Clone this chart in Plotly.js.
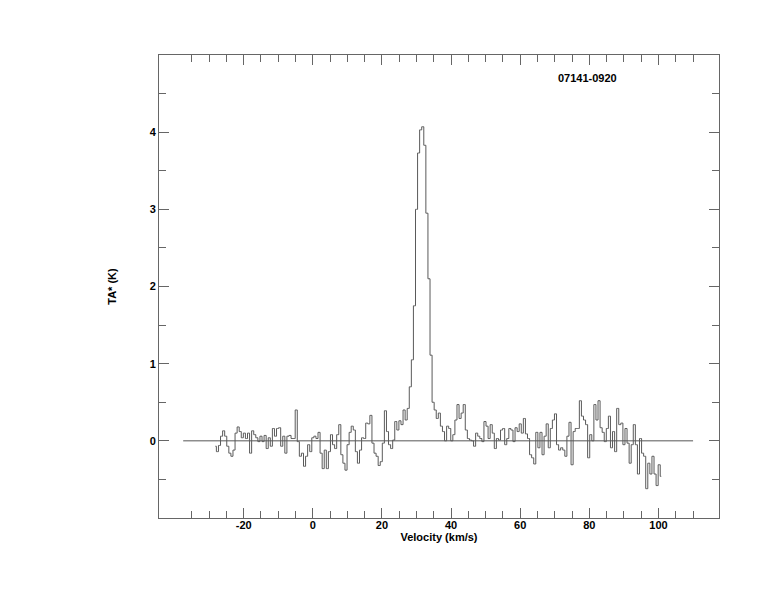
<!DOCTYPE html>
<html>
<head>
<meta charset="utf-8">
<script src="https://cdn.plot.ly/plotly-3.0.1.min.js"></script>
<style>html,body{margin:0;padding:0;background:#fff;}#chart{width:774px;height:612px;}</style>
</head>
<body>
<div id="chart"></div>
<script>
// ---- data ----
const sourceName = "07141-0920";
const velocityStart = -28.2;   // km/s, centre of first channel
const channelWidth = 0.6;      // km/s
const segmentNoiseLow = [
  -0.07, -0.14, -0.06, 0.06, 0.13, 0.06, -0.07, -0.16, -0.20, -0.12,
  0.10, 0.18, 0.12, 0.04, 0.10, 0.03, 0.10, -0.16, 0.13, 0.08,
  0.04, -0.01, 0.06, -0.01, 0.07, -0.10, 0.04, -0.07, 0.16, 0.06,
  0.16, 0.17, -0.07, 0.06, -0.16, 0.06, 0.07, 0.03, 0.03, 0.40,
  -0.01, -0.20, -0.16, -0.33, -0.20, -0.05, -0.14, 0.04, 0.06, 0.03,
  0.11, -0.16, -0.36, -0.12, -0.36, -0.14, 0.08, -0.05, -0.10, 0.08,
  0.21, -0.18, -0.29, -0.38, -0.05, 0.11, 0.19, 0.14, -0.14, -0.29,
  -0.12, 0.04
];
const segmentPreLine = [
  0.03, 0.23, 0.22, 0.33, -0.03, -0.16, -0.20, -0.32, -0.27, -0.03,
  0.39, 0.12, -0.05, -0.10, 0.01, 0.25, 0.14, 0.26, 0.21, 0.40,
  0.27, 0.42
];
const segmentLine = [
  0.70, 1.05, 1.75, 3.00, 3.73, 4.03, 4.07, 3.83, 2.95, 2.10,
  1.11, 0.50, 0.40
];
const segmentPostLine = [
  0.29, 0.36, 0.19, 0.12, 0.00, 0.19, 0.16, 0.00, 0.08, 0.27,
  0.47, 0.29, 0.36, 0.47, 0.14, 0.03, 0.01, 0.00, -0.07, 0.10,
  0.06, 0.03, -0.01, 0.25, 0.19, 0.03, 0.21, 0.10, -0.10, 0.03,
  0.01, 0.14, 0.16, -0.05, 0.03, 0.16, 0.14, -0.01, 0.17
];
const segmentNoiseHigh = [
  0.12, 0.22, 0.10, 0.29, 0.09, 0.03, -0.18, -0.22, -0.30, 0.11,
  -0.09, 0.11, -0.18, 0.06, 0.22, -0.09, 0.16, 0.27, 0.35, -0.05,
  -0.12, -0.09, -0.12, -0.20, 0.06, 0.24, -0.31, 0.12, 0.16, 0.16,
  0.52, 0.32, 0.27, 0.21, -0.22, 0.08, 0.00, 0.47, 0.27, 0.52,
  0.17, 0.11, -0.01, 0.16, 0.32, -0.09, 0.12, -0.14, 0.42, 0.21,
  0.23, -0.05, 0.16, -0.03, -0.29, -0.05, 0.21, -0.05, -0.43, 0.03,
  -0.16, -0.20, -0.62, -0.29, -0.43, -0.20, -0.43, -0.58, -0.31, -0.46
];
const baselineVelocity = [-37.5, 110];
const baselineLevel = [0, 0];
const xMajorTicks = [-20, 0, 20, 40, 60, 80, 100];
const xMinorFrom = -35, xMinorTo = 110, xMinorStep = 5;
const yMajorTicks = [0, 1, 2, 3, 4];
const yMinorTicks = [-0.5, 0.5, 1.5, 2.5, 3.5, 4.5];

// ---- build ----
const temps = [].concat(segmentNoiseLow, segmentPreLine, segmentLine, segmentPostLine, segmentNoiseHigh);
const vel = temps.map((_, i) => +(velocityStart + i * channelWidth).toFixed(3));
const xMinor = [];
for (let v = xMinorFrom; v <= xMinorTo; v += xMinorStep) if (!xMajorTicks.includes(v)) xMinor.push(v);

const axisColor = '#666666';
const fontBold = {family: 'Liberation Sans, Arial, Helvetica, sans-serif', size: 11, color: '#000', weight: 'bold'};

const traces = [
  {x: baselineVelocity, y: baselineLevel, type: 'scatter', mode: 'lines',
   line: {color: '#555555', width: 1}, hoverinfo: 'skip', showlegend: false},
  {x: vel, y: temps, type: 'scatter', mode: 'lines',
   line: {color: '#5a5a5a', width: 1, shape: 'hvh'}, showlegend: false}
];

const commonAxis = {
  showline: true, linecolor: axisColor, linewidth: 1, mirror: 'allticks',
  ticks: 'inside', tickcolor: axisColor, tickwidth: 1, ticklen: 10,
  showgrid: false, zeroline: false, tickfont: fontBold
};

const layout = {
  width: 774, height: 612,
  margin: {l: 159, r: 55, t: 55, b: 94},
  paper_bgcolor: '#fff', plot_bgcolor: '#fff',
  xaxis: Object.assign({}, commonAxis, {
    range: [-44.5, 117.5], tickmode: 'array', tickvals: xMajorTicks,
    ticktext: xMajorTicks.map(String), ticklabelstandoff: -3,
    minor: {tickmode: 'array', tickvals: xMinor, ticks: 'inside', ticklen: 7, tickcolor: axisColor, tickwidth: 1, showgrid: false},
    title: {text: 'Velocity (km/s)', font: fontBold, standoff: 0}
  }),
  yaxis: Object.assign({}, commonAxis, {
    range: [-1, 5], tickmode: 'array', tickvals: yMajorTicks,
    ticktext: yMajorTicks.map(String),
    minor: {tickmode: 'array', tickvals: yMinorTicks, ticks: 'inside', ticklen: 7, tickcolor: axisColor, tickwidth: 1, showgrid: false},
    title: {text: 'TA* (K)', font: fontBold, standoff: 30}
  }),
  annotations: [{
    text: sourceName, xref: 'paper', yref: 'paper', x: 0.766, y: 0.95,
    xanchor: 'center', yanchor: 'middle', showarrow: false, font: fontBold
  }]
};

Plotly.newPlot('chart', traces, layout, {displayModeBar: false, staticPlot: true});
</script>
</body>
</html>
